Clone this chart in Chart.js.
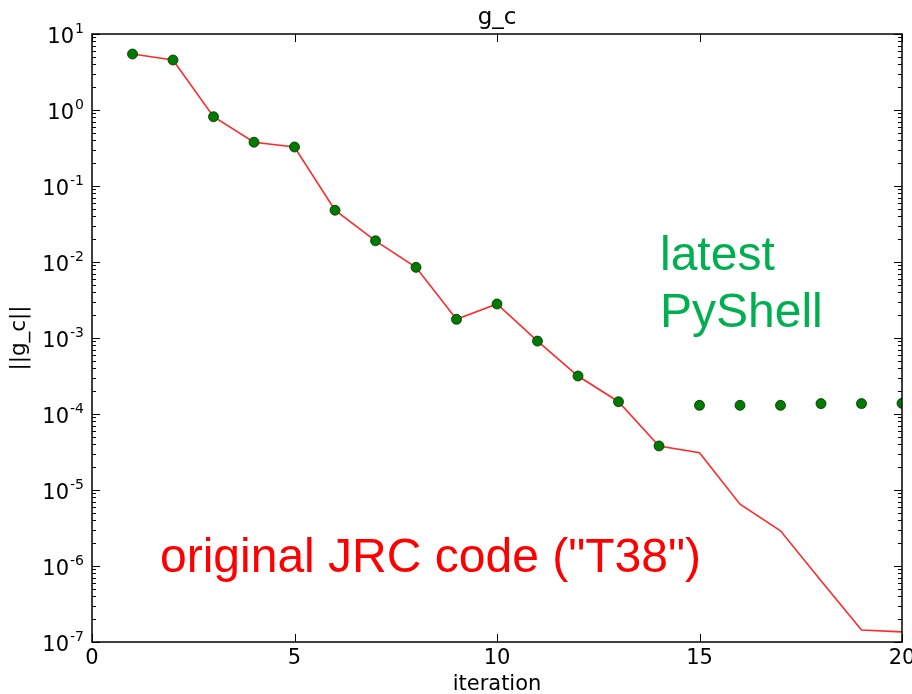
<!DOCTYPE html>
<html>
<head>
<meta charset="utf-8">
<script src="https://cdn.jsdelivr.net/npm/chart.js@4/dist/chart.umd.min.js"></script>
<style>
  body { margin: 0; background: #fff; }
  canvas { display: block; }
</style>
</head>
<body>
<canvas id="chartCanvas" width="912" height="694"></canvas>
<script>
let iterations = [1, 2, 3, 4, 5, 6, 7, 8, 9, 10, 11, 12, 13, 14, 15, 16, 17, 18, 19, 20];
let jrcNorm = [5.45, 4.55, 0.815, 0.377, 0.326, 0.048, 0.019, 0.0085, 0.00176, 0.0028,
  0.00091, 0.000316, 0.000145, 3.8e-5, 3.1e-5, 6.5e-6, 2.9e-6, 6.4e-7, 1.44e-7, 1.36e-7];
let pyShellNorm = [5.45, 4.55, 0.815, 0.377, 0.326, 0.048, 0.019, 0.0085, 0.00176, 0.0028,
  0.00091, 0.000316, 0.000145, 3.8e-5, 1.30e-4, 1.30e-4, 1.30e-4, 1.37e-4, 1.37e-4, 1.38e-4];
let xTicks = [0, 5, 10, 15, 20];
let yTicks = [1e-7, 1e-6, 1e-5, 1e-4, 1e-3, 1e-2, 1e-1, 1e0, 1e1];
let yTickExponents = ['-7', '-6', '-5', '-4', '-3', '-2', '-1', '0', '1'];

const axisFont = 'DejaVu Sans';

function toPoints(values) {
  return iterations.map((it, i) => ({ x: it, y: values[i] }));
}

// frame, inward ticks, 10^n labels and the two text notes
const framePlugin = {
  id: 'frame',
  afterDatasetsDraw(chart) {
    let ctx = chart.ctx;
    let area = chart.chartArea;
    let xs = chart.scales.x;
    let ys = chart.scales.y;
    ctx.save();
    ctx.strokeStyle = '#000';
    ctx.lineWidth = 1;

    xTicks.forEach(v => {
      let px = Math.round(xs.getPixelForValue(v)) + 0.5;
      ctx.beginPath();
      ctx.moveTo(px, area.bottom); ctx.lineTo(px, area.bottom - 8);
      ctx.moveTo(px, area.top); ctx.lineTo(px, area.top + 8);
      ctx.stroke();
    });

    for (let e = -7; e <= 0; e++) {
      for (let k = 1; k <= 10; k++) {
        if (k === 10 && e !== 0) continue;
        let v = k * Math.pow(10, e);
        let len = (k === 1 || k === 10) ? 8 : 4;
        let py = Math.round(ys.getPixelForValue(v)) + 0.5;
        ctx.beginPath();
        ctx.moveTo(area.left, py); ctx.lineTo(area.left + len, py);
        ctx.moveTo(area.right, py); ctx.lineTo(area.right - len, py);
        ctx.stroke();
      }
    }

    ctx.lineWidth = 1.5;
    ctx.strokeRect(area.left, area.top, area.right - area.left, area.bottom - area.top);

    // y tick labels as 10 with a raised exponent
    ctx.fillStyle = '#000';
    ctx.textBaseline = 'alphabetic';
    yTicks.forEach((v, i) => {
      let py = ys.getPixelForValue(v);
      let right = area.left - 8;
      ctx.font = '14px "' + axisFont + '"';
      let expW = ctx.measureText(yTickExponents[i]).width;
      ctx.textAlign = 'left';
      ctx.fillText(yTickExponents[i], right - expW, py - 1);
      ctx.font = '21px "' + axisFont + '"';
      ctx.textAlign = 'right';
      ctx.fillText('10', right - expW - 1, py + 8.5);
    });

    ctx.font = '48px "Liberation Sans", Arial, sans-serif';
    ctx.textAlign = 'left';
    ctx.fillStyle = '#00b050';
    ctx.fillText('latest', area.left + 568, 270);
    ctx.fillText('PyShell', area.left + 568, 327);
    ctx.fillStyle = '#ff0000';
    ctx.fillText('original JRC code ("T38")', area.left + 68, 572);
    ctx.restore();
  }
};

let ctx = document.getElementById('chartCanvas').getContext('2d');
let chartInstance = new Chart(ctx, {
  type: 'line',
  data: {
    datasets: [{
      label: 'original JRC code',
      data: toPoints(jrcNorm),
      borderColor: '#ff2a2a',
      borderWidth: 1.6,
      pointRadius: 0,
      fill: false,
      tension: 0,
      clip: 0,
      order: 2
    },
    {
      label: 'latest PyShell',
      data: toPoints(pyShellNorm),
      showLine: false,
      pointRadius: 5,
      pointBackgroundColor: '#007a00',
      pointBorderColor: '#003000',
      pointBorderWidth: 0.8,
      clip: 0,
      order: 1
    }]
  },
  options: {
    responsive: false,
    animation: false,
    layout: { autoPadding: false, padding: { left: 0, right: 10, top: 0, bottom: 0 } },
    plugins: {
      legend: { display: false },
      tooltip: { enabled: false },
      title: {
        display: true,
        text: 'g_c',
        fullSize: false,
        color: '#000',
        font: { family: axisFont, size: 23, weight: 'normal', lineHeight: 1.2 },
        padding: { top: 4.2, bottom: 2.2 }
      }
    },
    scales: {
      x: {
        type: 'linear',
        min: 0,
        max: 20,
        grid: { display: false, drawTicks: false },
        border: { display: false },
        afterBuildTicks: scale => { scale.ticks = xTicks.map(v => ({ value: v })); },
        afterFit: scale => {
          scale.height = 52;
          scale.paddingLeft = 0;
          scale.paddingRight = 0;
        },
        ticks: {
          color: '#000',
          padding: 4,
          maxRotation: 0,
          font: { family: axisFont, size: 21 }
        },
        title: {
          display: true,
          text: 'iteration',
          color: '#000',
          font: { family: axisFont, size: 21, lineHeight: 0.9 },
          padding: 0
        }
      },
      y: {
        type: 'logarithmic',
        min: 1e-7,
        max: 10,
        grid: { display: false, drawTicks: false },
        border: { display: false },
        afterBuildTicks: scale => { scale.ticks = yTicks.map(v => ({ value: v })); },
        afterFit: scale => {
          scale.width = 92;
          scale.paddingTop = 0;
          scale.paddingBottom = 0;
        },
        ticks: { display: false },
        title: {
          display: true,
          text: '||g_c||',
          color: '#000',
          font: { family: axisFont, size: 21.5, lineHeight: 1 },
          padding: { top: 8.2, bottom: 0 }
        }
      }
    }
  },
  plugins: [framePlugin]
});
</script>
</body>
</html>
